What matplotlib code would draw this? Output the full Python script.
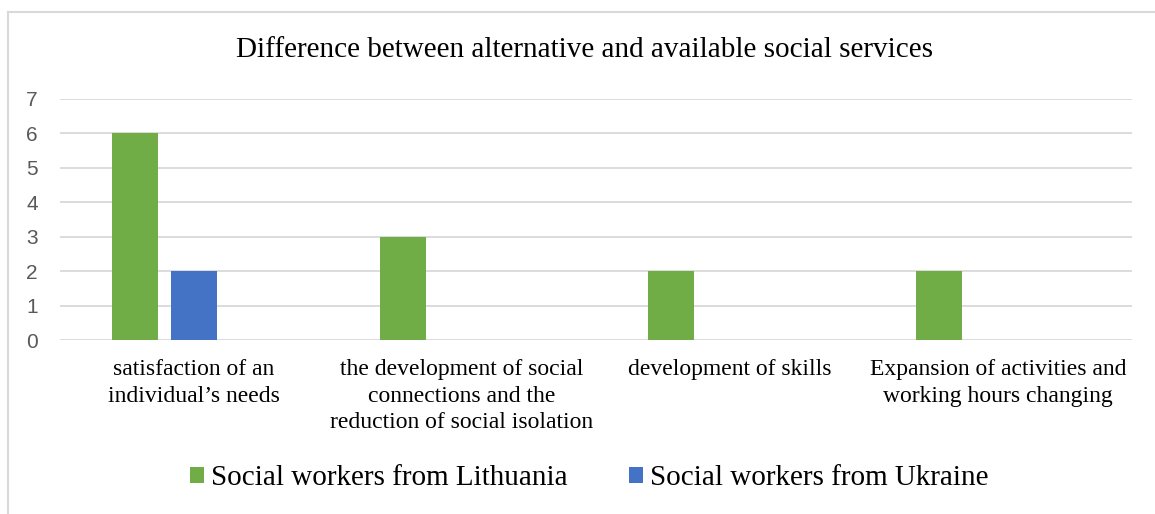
"""Clustered bar chart: alternative vs available social services"""
import matplotlib.pyplot as plt
from matplotlib.lines import Line2D
import numpy as np

categories = [
    "satisfaction of an\nindividual\u2019s needs",
    "the development of social\nconnections and the\nreduction of social isolation",
    "development of skills",
    "Expansion of activities and\nworking hours changing",
]
lithuania = [6, 3, 2, 2]
ukraine = [2, 0, 0, 0]
series_names = ["Social workers from Lithuania", "Social workers from Ukraine"]
yticks = [0, 1, 2, 3, 4, 5, 6, 7]

GREEN = "#70AD47"
BLUE = "#4472C4"
SERIF = ["Liberation Serif", "DejaVu Serif"]

fig = plt.figure(figsize=(11.55, 5.14), dpi=100)
ax = fig.add_axes([60 / 1155, 1 - 340 / 514, (1132 - 60) / 1155, (340 - 99) / 514])

x = np.arange(len(categories))
width = 0.175
ax.bar(x - 0.22, lithuania, width, color=GREEN, label=series_names[0], zorder=3)
ax.bar(x + 0.0, ukraine, width, color=BLUE, label=series_names[1], zorder=3)

ax.set_xlim(-0.5, len(categories) - 0.5)
ax.set_ylim(0, 7)
ax.set_yticks(yticks)
ax.yaxis.grid(True, color="#d9d9d9", linewidth=1.3, zorder=0)
ax.set_axisbelow(True)
for s in ax.spines.values():
    s.set_visible(False)

ax.tick_params(axis="y", length=0, pad=16, labelsize=15, labelcolor="#595959")
for lbl in ax.get_yticklabels():
    lbl.set_family("Liberation Sans")

ax.set_xticks(x)
ax.set_xticklabels(categories, fontsize=17, family=SERIF, linespacing=1.33)
ax.tick_params(axis="x", length=0, pad=14)

fig.text(584 / 1155, 1 - 50 / 514, "Difference between alternative and available social services",
         ha="center", va="center", fontsize=21, family=SERIF)

leg = ax.legend(loc="center", bbox_to_anchor=(589 / 1155, 1 - 478 / 514),
                bbox_transform=fig.transFigure, ncol=2, frameon=False,
                prop={"family": SERIF, "size": 21},
                handlelength=0.48, handleheight=0.48, handletextpad=0.25,
                columnspacing=2.1)

# thin frame around the chart area
fig.add_artist(Line2D([8 / 1155, 1], [1 - 12 / 514] * 2, color="#d9d9d9", linewidth=1.5))
fig.add_artist(Line2D([8 / 1155] * 2, [0, 1 - 12 / 514], color="#d9d9d9", linewidth=1.5))

fig.savefig("out.png", dpi=100)
